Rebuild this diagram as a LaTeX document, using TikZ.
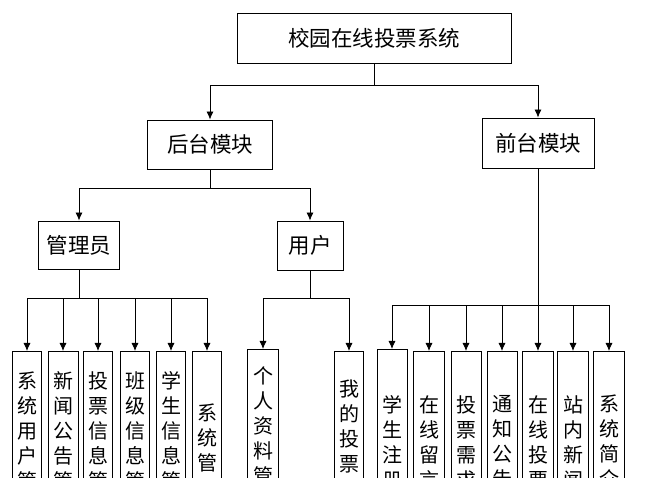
\documentclass[tikz,border=0pt]{standalone}
\usepackage{fontspec}
\setmainfont{Noto Sans CJK SC}
\usetikzlibrary{arrows.meta}

\begin{document}
\begin{tikzpicture}[x=1pt,y=-1pt,
  box/.style={draw,line width=0.9pt,inner sep=0pt,font=\fontsize{21.5}{24}\selectfont},
  leaf/.style={draw,line width=0.9pt,inner sep=0pt,anchor=north,minimum width=30pt,
    minimum height=183pt,align=center,font=\fontsize{20}{25}\selectfont},
  arr/.style={-{Latex[length=8pt,width=7pt]},line width=0.8pt},
  link/.style={line width=0.8pt}]
\useasboundingbox (0,0) rectangle (659,478);
\clip (0,0) rectangle (659,478);

\node[box,minimum width=274pt,minimum height=50pt] (sys) at (374,38) {校园在线投票系统};
\node[box,minimum width=125pt,minimum height=49pt] (back) at (210,144.5) {后台模块};
\node[box,minimum width=112pt,minimum height=50pt] (front) at (538,143) {前台模块};
\node[box,minimum width=81pt,minimum height=48pt] (admin) at (79,245) {管理员};
\node[box,minimum width=66pt,minimum height=49pt] (user) at (310,245.5) {用户};

\coordinate (j0) at (374,85);
\coordinate (j1) at (210,188);
\coordinate (j2) at (79,298);
\coordinate (j3) at (310,298);
\coordinate (j4) at (538,305);

% admin leaves
\node[leaf,minimum width=29pt] (a1) at (27,351) {系\\统\\用\\户\\管\\理};
\node[leaf] (a2) at (63,351) {新\\闻\\公\\告\\管\\理};
\node[leaf,minimum width=29pt] (a3) at (98,351) {投\\票\\信\\息\\管\\理};
\node[leaf,minimum width=29pt] (a4) at (135,351) {班\\级\\信\\息\\管\\理};
\node[leaf,minimum width=29pt] (a5) at (171,351) {学\\生\\信\\息\\管\\理};
\node[leaf,minimum width=29pt,minimum height=197pt] (a6) at (207,351) {系\\统\\管\\理};

% user leaves
\node[leaf,minimum width=31pt,minimum height=177pt] (u1) at (263,349) {个\\人\\资\\料\\管\\理};
\node[leaf,minimum width=29pt,minimum height=201pt] (u2) at (349,351) {我\\的\\投\\票\\记\\录};

% front leaves
\node[leaf,minimum height=185pt] (f1) at (392,349) {学\\生\\注\\册};
\node[leaf,minimum width=31pt,minimum height=181pt] (f2) at (429,351) {在\\线\\留\\言};
\node[leaf,minimum height=181pt] (f3) at (466,351) {投\\票\\需\\求};
\node[leaf,minimum height=181pt] (f4) at (502,351) {通\\知\\公\\告};
\node[leaf,minimum width=31pt,minimum height=181pt] (f5) at (538,351) {在\\线\\投\\票};
\node[leaf,minimum width=31pt,minimum height=181pt] (f6) at (573,351) {站\\内\\新\\闻};
\node[leaf,minimum width=31pt,minimum height=181pt] (f7) at (609,351) {系\\统\\简\\介};

\draw[link] (sys) -- (j0);
\draw[arr] (j0) -| (back);
\draw[arr] (j0) -| (front);

\draw[link] (back) -- (j1);
\draw[arr] (j1) -| (admin);
\draw[arr] (j1) -| (user);

\draw[link] (admin) -- (j2);
\draw[arr] (j2) -| (a1);
\draw[arr] (j2) -| (a2);
\draw[arr] (j2) -| (a3);
\draw[arr] (j2) -| (a4);
\draw[arr] (j2) -| (a5);
\draw[arr] (j2) -| (a6);

\draw[link] (user) -- (j3);
\draw[arr] (j3) -| (u1);
\draw[arr] (j3) -| (u2);

\draw[link] (front) -- (j4);
\draw[arr] (j4) -| (f1);
\draw[arr] (j4) -| (f2);
\draw[arr] (j4) -| (f3);
\draw[arr] (j4) -| (f4);
\draw[arr] (j4) -| (f5);
\draw[arr] (j4) -| (f6);
\draw[arr] (j4) -| (f7);

\end{tikzpicture}
\end{document}
